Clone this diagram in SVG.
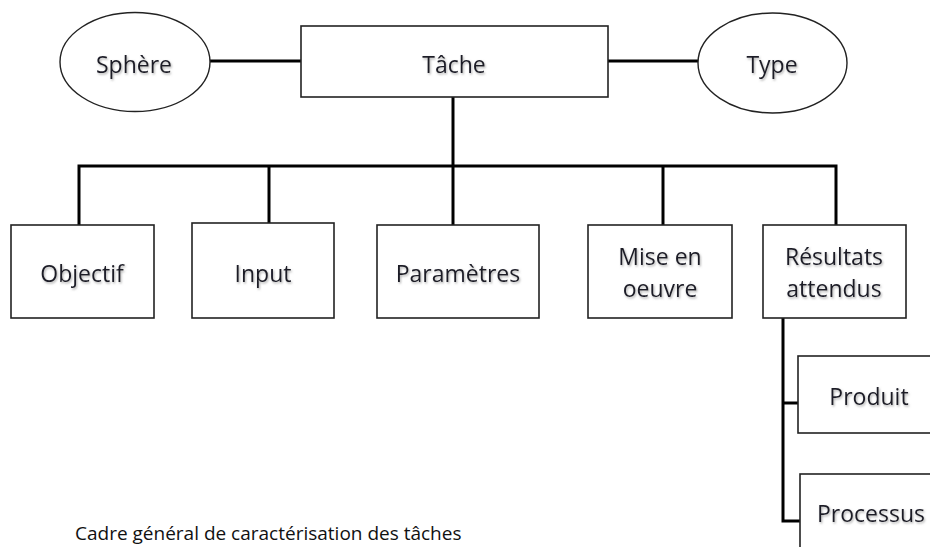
<svg xmlns="http://www.w3.org/2000/svg" width="930" height="547" viewBox="0 0 930 547">
<defs>
<filter id="sh" x="-10%" y="-20%" width="130%" height="150%">
<feDropShadow dx="1" dy="1.5" stdDeviation="1" flood-color="#777" flood-opacity="0.6"/>
</filter>
</defs>
<style>
.box{fill:#fff;stroke:#222;stroke-width:1.6}
.ell{fill:#fff;stroke:#222;stroke-width:1.4}
.lbl{font-family:"Open Sans","Liberation Sans",sans-serif;font-size:23px;fill:#1c1c28;text-anchor:middle;filter:url(#sh)}
.con{fill:none;stroke:#000;stroke-width:3;stroke-linejoin:miter}
.cap{font-family:"Open Sans","Liberation Sans",sans-serif;font-size:19px;fill:#111}
</style>
<rect width="930" height="547" fill="#fff"/>
<g id="connectors">
<line class="con" x1="210" y1="61" x2="301" y2="61"/>
<line class="con" x1="608" y1="61" x2="698" y2="61"/>
<line class="con" x1="453" y1="97" x2="453" y2="227"/>
<polyline class="con" points="79,225 79,166 836,166 836,225"/>
<line class="con" x1="269" y1="166" x2="269" y2="228"/>
<line class="con" x1="663" y1="166" x2="663" y2="225"/>
<polyline class="con" points="783,318 783,521 800,521"/>
<line class="con" x1="783" y1="403" x2="799" y2="403"/>
</g>
<g id="sphere"><ellipse class="ell" cx="135" cy="62" rx="75" ry="49.5"/><text class="lbl" x="134" y="73">Sphère</text></g>
<g id="tache"><rect class="box" x="301" y="26" width="307" height="71"/><text class="lbl" x="454" y="73">Tâche</text></g>
<g id="type"><ellipse class="ell" cx="772.5" cy="63" rx="74.5" ry="50"/><text class="lbl" x="772" y="73">Type</text></g>
<g id="objectif"><rect class="box" x="11" y="225" width="143" height="93"/><text class="lbl" x="82" y="282">Objectif</text></g>
<g id="input"><rect class="box" x="192" y="223" width="142" height="95"/><text class="lbl" x="263" y="282">Input</text></g>
<g id="parametres"><rect class="box" x="377" y="225" width="162" height="93"/><text class="lbl" x="458" y="282">Paramètres</text></g>
<g id="mise"><rect class="box" x="588" y="225" width="144" height="93"/><text class="lbl" x="660" y="265">Mise en</text><text class="lbl" x="660" y="297">oeuvre</text></g>
<g id="resultats"><rect class="box" x="763" y="225" width="143" height="93"/><text class="lbl" x="834" y="265">Résultats</text><text class="lbl" x="834" y="297">attendus</text></g>
<g id="produit"><rect class="box" x="798" y="356" width="140" height="77"/><text class="lbl" x="869" y="405">Produit</text></g>
<g id="processus"><rect class="box" x="800" y="474" width="140" height="90"/><text class="lbl" x="871" y="522">Processus</text></g>
<text class="cap" x="75" y="540">Cadre général de caractérisation des tâches</text>
</svg>
